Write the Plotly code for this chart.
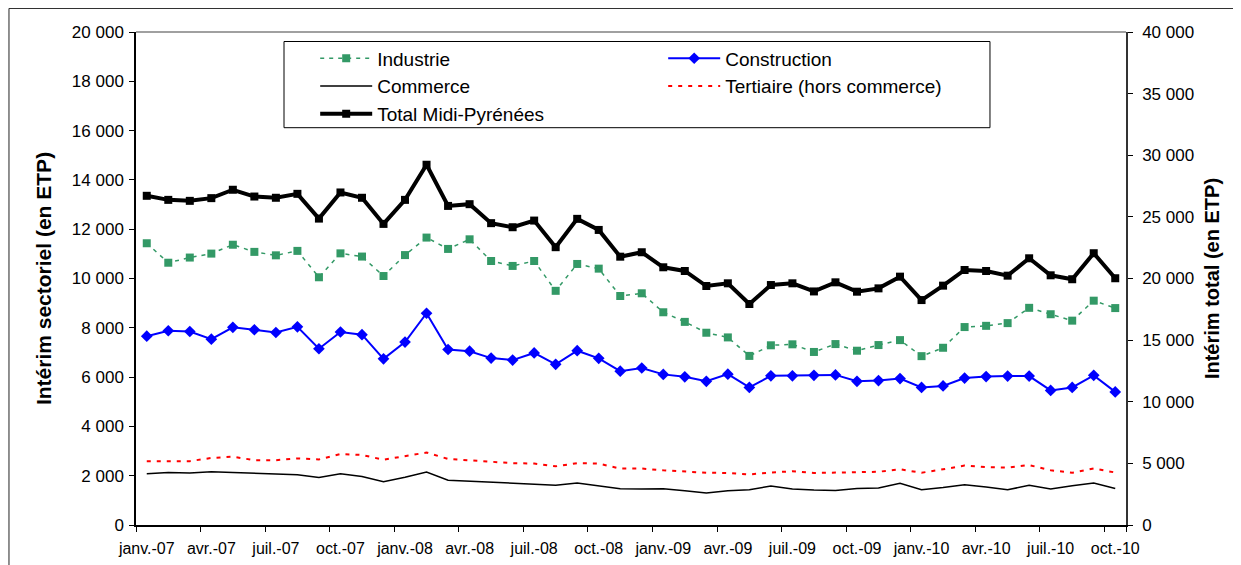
import plotly.graph_objects as go

months = ["janv.", "févr.", "mars", "avr.", "mai", "juin",
          "juil.", "août", "sept.", "oct.", "nov.", "déc."]
categories = [f"{m}-{y:02d}" for y in (7, 8, 9, 10) for m in months][:46]
tick_labels = categories[::3]

industrie = [11430, 10640, 10850, 11010, 11370, 11080, 10940, 11120, 10050, 11020,
             10890, 10100, 10950, 11660, 11200, 11590, 10710, 10510, 10710, 9500,
             10590, 10400, 9290, 9400, 8630, 8240, 7800, 7610, 6860, 7290,
             7330, 7020, 7340, 7070, 7300, 7500, 6850, 7190, 8030, 8080,
             8190, 8810, 8550, 8290, 9100, 8800]
construction = [7660, 7880, 7850, 7540, 8020, 7920, 7810, 8040, 7150, 7830,
                7720, 6740, 7420, 8590, 7120, 7050, 6770, 6690, 6980, 6520,
                7070, 6760, 6240, 6370, 6110, 6010, 5830, 6120, 5580, 6050,
                6050, 6070, 6090, 5830, 5860, 5940, 5580, 5640, 5960, 6020,
                6040, 6040, 5460, 5580, 6070, 5400]
commerce = [2080, 2130, 2110, 2160, 2130, 2090, 2050, 2040, 1930, 2080,
            1970, 1760, 1940, 2150, 1820, 1780, 1740, 1700, 1650, 1610,
            1700, 1580, 1470, 1460, 1470, 1390, 1300, 1390, 1430, 1580,
            1460, 1420, 1400, 1480, 1500, 1690, 1430, 1520, 1630, 1540,
            1430, 1610, 1460, 1590, 1700, 1480]
tertiaire = [2590, 2590, 2590, 2720, 2770, 2630, 2630, 2700, 2660, 2880,
             2840, 2650, 2790, 2940, 2680, 2620, 2580, 2510, 2490, 2380,
             2510, 2490, 2290, 2290, 2220, 2160, 2120, 2110, 2050, 2130,
             2180, 2110, 2130, 2130, 2160, 2260, 2120, 2260, 2410, 2350,
             2330, 2430, 2220, 2120, 2290, 2130]
total = [26710, 26380, 26300, 26520, 27200, 26650, 26550, 26870, 24860, 26980,
         26550, 24430, 26380, 29230, 25890, 26030, 24490, 24160, 24700, 22540,
         24840, 23940, 21770, 22130, 20910, 20610, 19390, 19610, 17930, 19470,
         19610, 18950, 19690, 18930, 19200, 20150, 18250, 19420, 20690, 20610,
         20230, 21640, 20260, 19940, 22050, 20020]

FONT = "Liberation Sans, Arial, sans-serif"
n = len(categories)
boundaries = [i - 0.5 for i in range(0, n, 3)]

fig = go.Figure()
fig.add_trace(go.Scatter(x=categories, y=industrie, name="Industrie", mode="lines+markers",
                         line=dict(color="#339966", width=1.5, dash="4px,5px"),
                         marker=dict(symbol="square", size=8, color="#339966")))
fig.add_trace(go.Scatter(x=categories, y=construction, name="Construction", mode="lines+markers",
                         line=dict(color="#0000FF", width=2),
                         marker=dict(symbol="diamond", size=9, color="#0000FF")))
fig.add_trace(go.Scatter(x=categories, y=commerce, name="Commerce", mode="lines",
                         line=dict(color="#000000", width=1.5)))
fig.add_trace(go.Scatter(x=categories, y=tertiaire, name="Tertiaire (hors commerce)", mode="lines",
                         line=dict(color="#FF0000", width=2, dash="4px,6px")))
fig.add_trace(go.Scatter(x=categories, y=total, name="Total Midi-Pyrénées", mode="lines+markers",
                         yaxis="y2",
                         line=dict(color="#000000", width=4),
                         marker=dict(symbol="square", size=8, color="#000000")))

tick_common = dict(showgrid=False, zeroline=False, showline=False, showticklabels=False,
                   ticks="inside", ticklen=5, tickcolor="black", tickwidth=1)

fig.update_layout(
    width=1233, height=557,
    margin=dict(l=128, r=115, t=24, b=40, autoexpand=False),
    paper_bgcolor="white", plot_bgcolor="white",
    font=dict(family=FONT, size=16, color="black"),
    separators=", ",
    showlegend=True,
    legend=dict(orientation="h", x=0.181, y=0.985, xanchor="left", yanchor="top",
                xref="paper", yref="paper",
                bgcolor="rgba(0,0,0,0)", borderwidth=0,
                font=dict(family=FONT, size=19, color="black"),
                itemwidth=52, entrywidth=281, traceorder="normal"),
    xaxis=dict(type="category", categoryorder="array", categoryarray=categories,
               range=[-0.5, n - 0.5], tickmode="array", tickvals=tick_labels,
               tickson="boundaries", ticks="outside", ticklen=5, tickcolor="black",
               tickangle=0, ticklabelstandoff=8,
               showline=True, linecolor="black", linewidth=1.5, showgrid=False,
               zeroline=False, tickfont=dict(size=16)),
    xaxis2=dict(overlaying="x", anchor="y", side="bottom", range=[-0.5, n - 0.5],
                tickmode="array", tickvals=boundaries, **tick_common),
    yaxis=dict(range=[0, 20000], dtick=2000, tickformat=",d", ticks="outside", ticklen=5,
               tickcolor="black", showline=True, linecolor="black", linewidth=1.5,
               showgrid=False, zeroline=False, tickfont=dict(size=17), ticklabelstandoff=2,
               title=dict(text="<b>Intérim sectoriel (en ETP)</b>", font=dict(size=21), standoff=14)),
    yaxis2=dict(range=[0, 40000], dtick=5000, tickformat=",d", overlaying="y", side="right",
                ticks="outside", ticklen=5, tickcolor="black", showline=True,
                linecolor="#333333", linewidth=1.5, showgrid=False, zeroline=False,
                tickfont=dict(size=17), ticklabelstandoff=6,
                title=dict(text="<b>Intérim total (en ETP)</b>", font=dict(size=20), standoff=12)),
    yaxis3=dict(overlaying="y", anchor="x", side="left", range=[0, 20000], dtick=2000,
                **tick_common),
    yaxis4=dict(overlaying="y", anchor="x", side="right", range=[0, 40000], dtick=5000,
                **tick_common),
    shapes=[
        dict(type="rect", xref="paper", yref="paper", x0=-0.1283, x1=1.3, y0=-0.3, y1=1.0478,
             line=dict(color="#222222", width=1), layer="below"),
        dict(type="line", xref="paper", yref="paper", x0=0, x1=1, y0=1, y1=1,
             line=dict(color="#808080", width=1.5)),
        dict(type="rect", xref="paper", yref="paper", x0=0.1495, x1=0.8626, y0=0.8059, y1=0.9807,
             line=dict(color="black", width=1), fillcolor="white", layer="above"),
    ],
)

fig.write_html("out.html")
